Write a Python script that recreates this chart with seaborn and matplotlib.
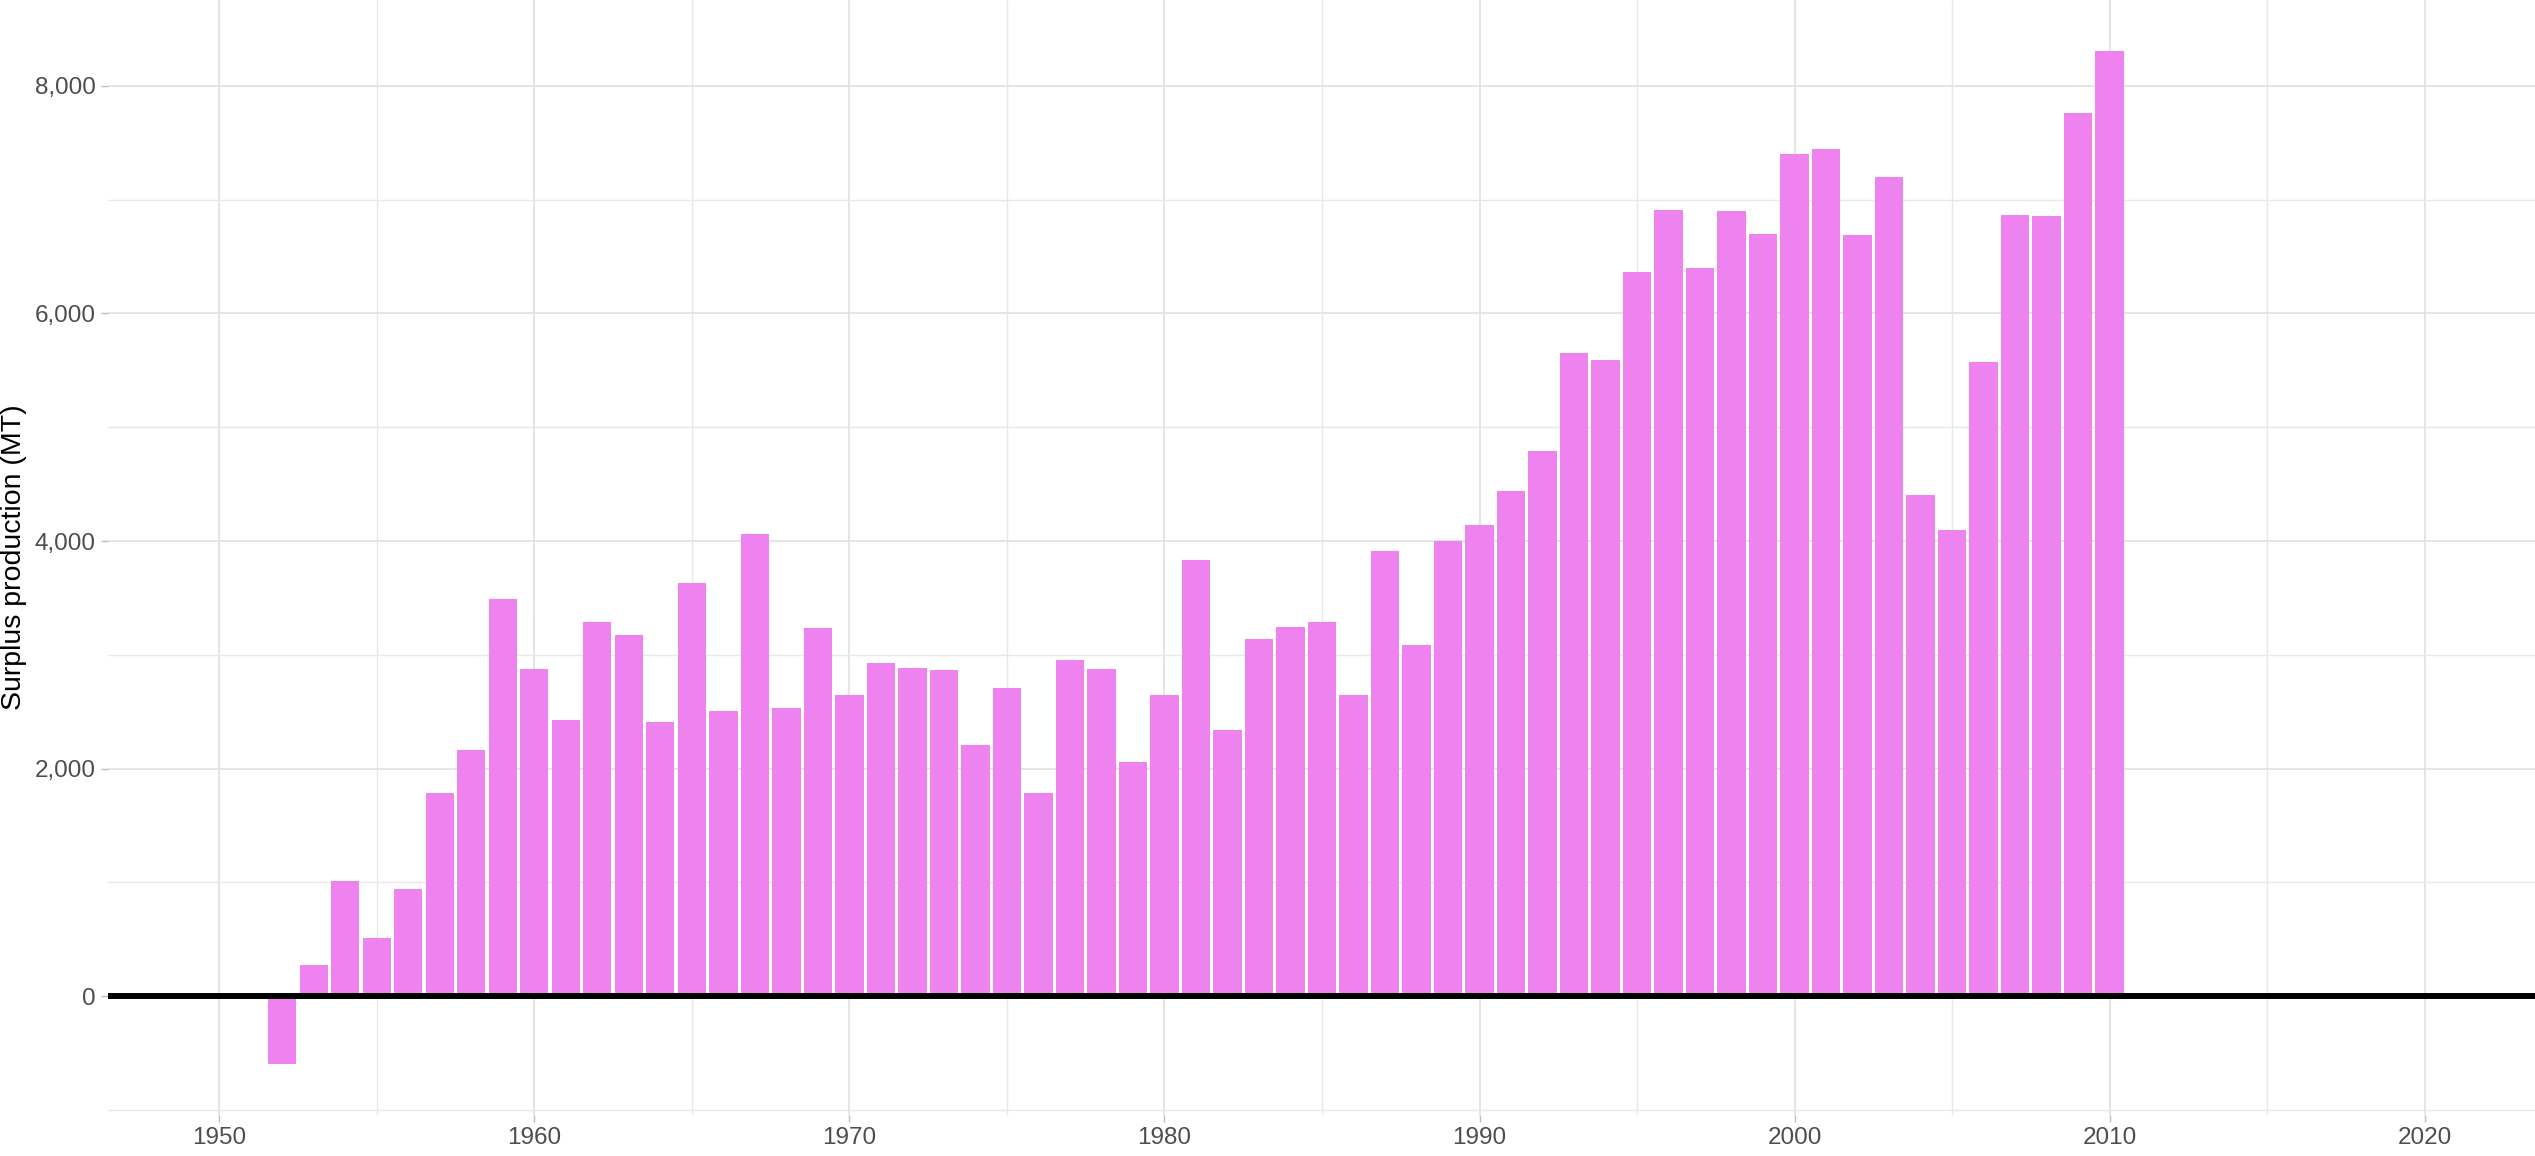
import matplotlib
matplotlib.use("Agg")
import matplotlib.pyplot as plt
import matplotlib.ticker as mticker
import seaborn as sns
import pandas as pd

years = list(range(1952, 2011))
surplus = [
    -600, 270, 1010, 510, 940, 1785, 2165, 3490, 2875, 2430,
    3290, 3170, 2405, 3630, 2505, 4060, 2535, 3235, 2645, 2925,
    2885, 2870, 2210, 2710, 1785, 2955, 2875, 2055, 2650, 3830,
    2335, 3135, 3245, 3285, 2650, 3910, 3090, 4000, 4140, 4440,
    4795, 5655, 5595, 6365, 6910, 6400, 6900, 6700, 7400, 7445,
    6690, 7200, 4400, 4095, 5570, 6865, 6855, 7760, 8310,
]
y_label = "Surplus production (MT)"
x_major = [1950, 1960, 1970, 1980, 1990, 2000, 2010, 2020]
x_minor = [1955, 1965, 1975, 1985, 1995, 2005, 2015]
y_major = [0, 2000, 4000, 6000, 8000]
y_minor = [-1000, 1000, 3000, 5000, 7000]

df = pd.DataFrame({"year": years, "surplus": surplus})

sns.set_theme(style="white")
plt.rcParams["font.family"] = ["Liberation Sans", "DejaVu Sans"]

dpi = 100
fig = plt.figure(figsize=(25.35, 11.56), dpi=dpi)
ax = fig.add_axes([108 / 2535, 41 / 1156, 1 - 108 / 2535, 1 - 41 / 1156])

sns.barplot(data=df, x="year", y="surplus", native_scale=True, width=0.9,
            color="#EE82EE", saturation=1, linewidth=0, ax=ax, zorder=2)

ax.set_xlim(1946.47, 2023.5)
ax.set_ylim(-1045, 8755)

ax.set_xticks(x_major)
ax.set_xticks(x_minor, minor=True)
ax.set_yticks(y_major)
ax.set_yticks(y_minor, minor=True)
ax.yaxis.set_major_formatter(mticker.FuncFormatter(lambda v, p: f"{int(v):,}"))
ax.xaxis.set_major_formatter(mticker.FuncFormatter(lambda v, p: f"{int(v)}"))

ax.grid(which="major", color="#E3E3E3", linewidth=1.3, zorder=0)
ax.grid(which="minor", color="#E8E8E8", linewidth=1.0, zorder=0)
ax.set_axisbelow(True)

for s in ax.spines.values():
    s.set_visible(False)

ax.tick_params(axis="both", which="major", length=5, width=1, color="#BDBDBD",
               labelsize=17.5, labelcolor="#4D4D4D", pad=4,
               bottom=True, left=True)
ax.tick_params(axis="both", which="minor", length=0)

ax.axhline(0, color="black", linewidth=4.3, zorder=3)

ax.set_xlabel("")
ax.set_ylabel(y_label, fontsize=20.5, color="black")
ax.yaxis.set_label_coords(-0.0334, 0.5)

fig.savefig("out.png", dpi=dpi)
